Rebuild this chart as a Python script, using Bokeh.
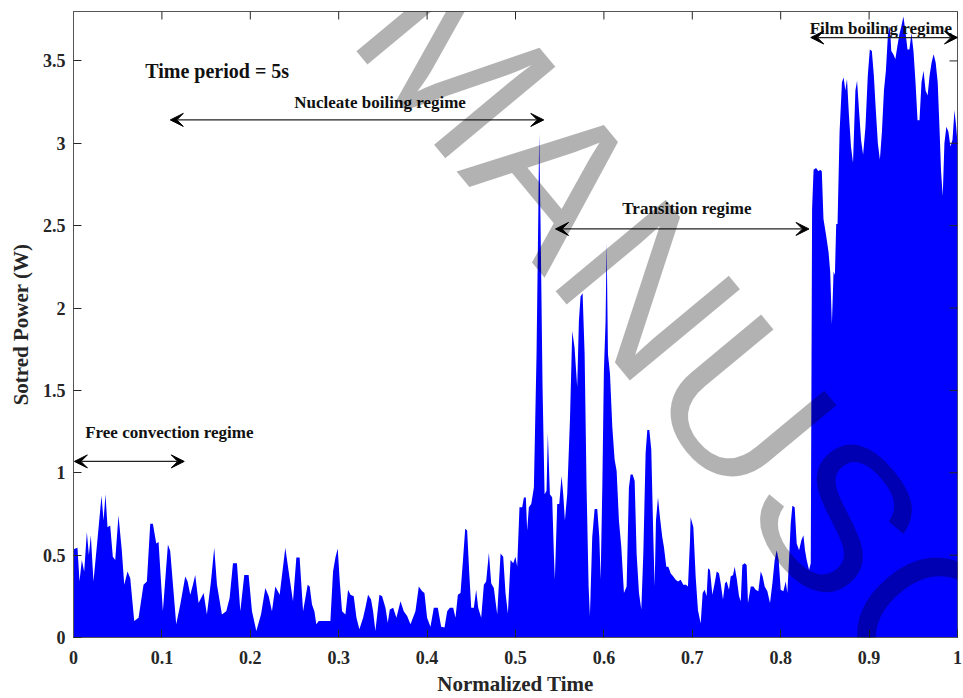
import math
from bokeh.plotting import figure
from bokeh.models import Range1d, FixedTicker, Label, Arrow, VeeHead
from bokeh.embed import file_html
from bokeh.resources import INLINE

# ---- data (normalized time, stored power W) ----
conv_t = [0.0, 0.0045, 0.0068, 0.0094, 0.0121, 0.0151, 0.0174, 0.0196, 0.0226, 0.0272,
          0.0317, 0.034, 0.0362, 0.0385, 0.0415, 0.0445, 0.0472, 0.0509, 0.0547, 0.0574,
          0.0611, 0.0642, 0.0687, 0.0736, 0.0792, 0.083, 0.0868, 0.0898, 0.0936, 0.0962,
          0.1011, 0.1068, 0.1094, 0.1162, 0.1208, 0.1264, 0.1291, 0.1321, 0.1351, 0.1377,
          0.1415, 0.1472, 0.1509, 0.1555, 0.1592, 0.1623, 0.1679, 0.1728, 0.1766, 0.1804,
          0.1849, 0.1887, 0.1932, 0.1981, 0.2019, 0.2068, 0.2121, 0.217, 0.2208, 0.2245,
          0.2283, 0.2332, 0.2396, 0.2434, 0.2483, 0.2521, 0.2558]
conv_p = [0.535, 0.545, 0.34, 0.47, 0.40, 0.64, 0.50, 0.62, 0.34, 0.60,
          0.86, 0.71, 0.87, 0.67, 0.68, 0.49, 0.47, 0.74, 0.525, 0.32,
          0.40, 0.36, 0.10, 0.12, 0.32, 0.34, 0.69, 0.69, 0.57, 0.58,
          0.16, 0.565, 0.525, 0.08, 0.20, 0.37, 0.34, 0.26, 0.32, 0.38,
          0.21, 0.27, 0.14, 0.34, 0.545, 0.32, 0.14, 0.16, 0.24, 0.45,
          0.45, 0.16, 0.38, 0.38, 0.16, 0.04, 0.14, 0.30, 0.25, 0.16,
          0.31, 0.26, 0.545, 0.40, 0.22, 0.485, 0.485]

mid_t = [0.2597, 0.2623, 0.2649, 0.2672, 0.2698, 0.2725, 0.2747, 0.2774, 0.283, 0.2906,
         0.2936, 0.2963, 0.2989, 0.3012, 0.3038, 0.3076, 0.3106, 0.3133, 0.317, 0.3201,
         0.3234, 0.3276, 0.3302, 0.3332, 0.3366, 0.3389, 0.3415, 0.3461, 0.3491, 0.3529,
         0.3555, 0.3578, 0.3616, 0.3653, 0.3699, 0.3736, 0.3774, 0.3812, 0.3868, 0.3906,
         0.3944, 0.397, 0.4, 0.4038, 0.4076, 0.4121, 0.4159, 0.4197, 0.4227, 0.4257,
         0.4295, 0.4321, 0.4348, 0.4378, 0.4408, 0.4431, 0.4453, 0.4476, 0.4499, 0.4529,
         0.4555, 0.4578, 0.4612, 0.4642, 0.4668, 0.4699, 0.4725, 0.4755, 0.4793]
mid_p = [0.16, 0.24, 0.32, 0.31, 0.20, 0.16, 0.08, 0.10, 0.10, 0.10,
         0.40, 0.485, 0.54, 0.34, 0.16, 0.14, 0.29, 0.26, 0.25, 0.12,
         0.05, 0.12, 0.18, 0.26, 0.23, 0.16, 0.04, 0.26, 0.25, 0.18,
         0.09, 0.17, 0.18, 0.12, 0.22, 0.16, 0.13, 0.08, 0.16, 0.31,
         0.28, 0.27, 0.12, 0.065, 0.18, 0.18, 0.065, 0.06, 0.16, 0.18,
         0.18, 0.12, 0.26, 0.27, 0.485, 0.66, 0.65, 0.40, 0.18, 0.18,
         0.29, 0.18, 0.12, 0.32, 0.34, 0.515, 0.33, 0.30, 0.14]

nuc_t = [0.4831, 0.4861, 0.4887, 0.4914, 0.4944, 0.4974, 0.5, 0.5019, 0.5045, 0.5076,
         0.5095, 0.5117, 0.5132, 0.5151, 0.5178, 0.5208, 0.5238, 0.5257, 0.5268, 0.5283,
         0.5306, 0.5329, 0.5351, 0.5366, 0.5389, 0.5415, 0.5434, 0.5445, 0.5472, 0.5495,
         0.5521, 0.554, 0.5559, 0.5585, 0.5616, 0.5642, 0.5668, 0.5698, 0.5717, 0.5736,
         0.5759, 0.5782, 0.5804, 0.5827, 0.5842, 0.5868, 0.5895, 0.5925, 0.5948, 0.5963,
         0.5982, 0.6, 0.6019, 0.6031, 0.6046, 0.6069, 0.6095, 0.6121, 0.6144, 0.617,
         0.6197, 0.6227, 0.6257, 0.6283, 0.6302, 0.6325, 0.6348, 0.637, 0.6397, 0.6423,
         0.6446, 0.6472, 0.6491, 0.6514, 0.6536, 0.6559, 0.6574, 0.6589, 0.6612, 0.6634,
         0.666, 0.6679, 0.6706, 0.6729, 0.6755, 0.6785, 0.6812, 0.6838, 0.6868, 0.6898,
         0.6929, 0.6951, 0.6974]
nuc_p = [0.51, 0.49, 0.27, 0.145, 0.47, 0.45, 0.49, 0.43, 0.79, 0.79,
         0.85, 0.85, 0.65, 0.79, 0.81, 0.91, 1.72, 2.53, 3.06, 2.53,
         1.52, 0.87, 0.89, 1.24, 0.87, 0.85, 0.51, 0.35, 0.81, 0.81,
         0.98, 0.87, 0.71, 0.87, 1.32, 1.86, 1.76, 1.52, 1.92, 2.07,
         2.09, 1.72, 0.91, 0.31, 0.13, 0.61, 0.78, 0.78, 0.61, 0.35,
         0.91, 1.62, 1.92, 2.40, 1.72, 1.60, 1.28, 1.08, 1.01, 0.71,
         0.55, 0.27, 0.31, 0.91, 0.99, 0.99, 0.95, 0.51, 0.27, 0.17,
         0.51, 1.12, 1.26, 1.26, 1.14, 0.61, 0.31, 0.71, 0.85, 0.73,
         0.61, 0.55, 0.43, 0.43, 0.39, 0.37, 0.35, 0.34, 0.35, 0.32,
         0.32, 0.31, 0.59]

trans_t = [0.6981, 0.7012, 0.7038, 0.7064, 0.7095, 0.7117, 0.714, 0.7162, 0.7178, 0.72,
           0.7227, 0.7253, 0.7276, 0.7302, 0.7321, 0.7347, 0.737, 0.7389, 0.7415, 0.7434,
           0.7461, 0.7479, 0.7502, 0.7529, 0.7548, 0.7566, 0.7593, 0.7615, 0.763, 0.7661,
           0.7691, 0.7717, 0.7747, 0.7774, 0.7796, 0.7819, 0.7849, 0.7879, 0.7906, 0.7932,
           0.7955, 0.7977, 0.8, 0.803, 0.8057, 0.8075, 0.8094, 0.8113, 0.8132, 0.8158,
           0.8181, 0.8208, 0.8234, 0.8257, 0.8275, 0.8294, 0.8321, 0.834]
trans_p = [0.73, 0.67, 0.37, 0.165, 0.085, 0.27, 0.29, 0.25, 0.42, 0.41,
           0.26, 0.33, 0.40, 0.39, 0.33, 0.23, 0.33, 0.34, 0.29, 0.37,
           0.38, 0.43, 0.36, 0.25, 0.22, 0.44, 0.45, 0.44, 0.21, 0.31,
           0.31, 0.29, 0.28, 0.40, 0.37, 0.31, 0.28, 0.21, 0.33, 0.47,
           0.53, 0.47, 0.29, 0.28, 0.34, 0.27, 0.47, 0.69, 0.80, 0.79,
           0.57, 0.53, 0.59, 0.62, 0.53, 0.47, 0.41, 0.45]

film_t = [0.8355, 0.8372, 0.84, 0.8427, 0.8446, 0.8465, 0.8484, 0.8514, 0.8541, 0.856,
          0.8579, 0.8598, 0.8613, 0.8628, 0.8643, 0.8666, 0.8693, 0.8712, 0.8731, 0.875,
          0.8772, 0.8795, 0.8818, 0.8845, 0.8864, 0.8886, 0.8909, 0.8932, 0.8959, 0.8985,
          0.9008, 0.9031, 0.9054, 0.9076, 0.9099, 0.9122, 0.9145, 0.9168, 0.919, 0.9213,
          0.9236, 0.9251, 0.9274, 0.9297, 0.932, 0.9342, 0.9365, 0.9388, 0.9411, 0.9434,
          0.9456, 0.9479, 0.9502, 0.9525, 0.9548, 0.957, 0.9593, 0.9616, 0.9639, 0.9662,
          0.9684, 0.9707, 0.973, 0.9753, 0.9776, 0.9798, 0.9814, 0.9833, 0.9852, 0.9874,
          0.9897, 0.992, 0.9943, 0.9966, 0.9985, 1.0]
film_p = [2.60, 2.84, 2.85, 2.83, 2.84, 2.83, 2.54, 2.44, 2.34, 2.22,
          1.90, 2.22, 2.20, 2.51, 2.51, 3.07, 3.37, 3.40, 3.32, 3.39,
          3.17, 2.98, 2.88, 3.32, 3.38, 3.20, 3.02, 2.93, 3.10, 3.41,
          3.57, 3.56, 3.41, 3.20, 3.00, 2.90, 3.07, 3.32, 3.44, 3.66,
          3.71, 3.56, 3.54, 3.51, 3.59, 3.66, 3.71, 3.77, 3.68, 3.57,
          3.57, 3.67, 3.56, 3.37, 3.14, 3.14, 3.37, 3.44, 3.32, 3.29,
          3.41, 3.49, 3.54, 3.49, 3.37, 3.07, 2.83, 2.68, 3.00, 3.10,
          3.07, 2.98, 3.02, 3.20, 3.10, 3.00]

x_ticks = [0, 0.1, 0.2, 0.3, 0.4, 0.5, 0.6, 0.7, 0.8, 0.9, 1]
x_tick_labels = ["0", "0.1", "0.2", "0.3", "0.4", "0.5", "0.6", "0.7", "0.8", "0.9", "1"]
y_ticks = [0, 0.5, 1, 1.5, 2, 2.5, 3, 3.5]
y_tick_labels = ["0", "0.5", "1", "1.5", "2", "2.5", "3", "3.5"]

time = conv_t + mid_t + nuc_t + trans_t + film_t
power = conv_p + mid_p + nuc_p + trans_p + film_p

X_MIN, X_MAX = 0, 1
Y_MIN, Y_MAX = 0, 3.8

SERIF = "Liberation Serif"
AX = "#262626"

p = figure(width=963, height=698, output_backend="svg", toolbar_location=None,
           x_range=Range1d(X_MIN, X_MAX), y_range=Range1d(Y_MIN, Y_MAX),
           min_border_left=73, min_border_right=6, min_border_top=11, min_border_bottom=61,
           background_fill_color="white", border_fill_color="white")
p.xgrid.visible = False
p.ygrid.visible = False
p.outline_line_color = "#555555"
p.outline_line_width = 1

p.varea(x=time, y1=0, y2=power, fill_color="#0000ff")

# inward ticks on top and right edges (half of each dash is clipped by the frame)
p.scatter(x=x_ticks, y=[Y_MAX] * len(x_ticks), marker="dash", size=16,
          angle=math.pi / 2, line_color=AX, line_width=1)
p.scatter(x=[X_MAX] * len(y_ticks), y=y_ticks, marker="dash", size=16,
          line_color=AX, line_width=1)

def style_axis(ax, ticks, labels):
    ax.ticker = FixedTicker(ticks=ticks)
    ax.major_label_overrides = dict(zip(ticks, labels))
    ax.minor_tick_line_color = None
    ax.major_tick_in = 8
    ax.major_tick_out = 0
    ax.major_tick_line_color = AX
    ax.axis_line_color = "#555555"
    ax.major_label_text_font = SERIF
    ax.major_label_text_font_style = "bold"
    ax.major_label_text_color = AX
    ax.major_label_text_font_size = "18px"
    ax.axis_label_text_font = SERIF
    ax.axis_label_text_font_style = "bold"
    ax.axis_label_text_font_size = "21px"
    ax.axis_label_text_color = AX

xa = p.xaxis[0]
ya = p.yaxis[0]
style_axis(xa, x_ticks, x_tick_labels)
style_axis(ya, y_ticks, y_tick_labels)
xa.axis_label = "Normalized Time"
ya.axis_label = "Sotred Power (W)"
xa.major_label_standoff = 13
xa.axis_label_standoff = 5
ya.major_label_standoff = 8
ya.axis_label_standoff = 7

# annotations
def txt(x, y, s, size):
    p.add_layout(Label(x=x, y=y, text=s, text_font=SERIF, text_font_style="bold",
                       text_font_size=size, text_color="#111111",
                       text_align="left", text_baseline="alphabetic"))

txt(0.0812, 3.436, "Time period = 5s", "20px")
txt(0.2498, 3.248, "Nucleate boiling regime", "17px")
txt(0.6208, 2.603, "Transition regime", "17px")
txt(0.8328, 3.695, "Film boiling regime", "17px")
txt(0.0132, 1.247, "Free convection regime", "17px")

def arrow(x0, x1, y):
    p.add_layout(Arrow(start=VeeHead(size=13, fill_color="black", line_color="black", line_width=1),
                       end=VeeHead(size=13, fill_color="black", line_color="black", line_width=1),
                       x_start=x0, y_start=y, x_end=x1, y_end=y,
                       line_color="#222222", line_width=1.3))

arrow(0.1095, 0.532, 3.142)
arrow(0.5453, 0.832, 2.48)
arrow(0.834, 1.0, 3.642)
arrow(0.001, 0.1253, 1.069)

# watermark
p.add_layout(Label(x=0.3704, y=3.919, text="MANUSCRIPT", angle=-50.3, angle_units="deg",
                   text_font="Liberation Sans", text_font_size="208px",
                   text_color="black", text_alpha=0.3,
                   text_align="left", text_baseline="alphabetic"))

open("out.html", "w").write(file_html(p, INLINE))
